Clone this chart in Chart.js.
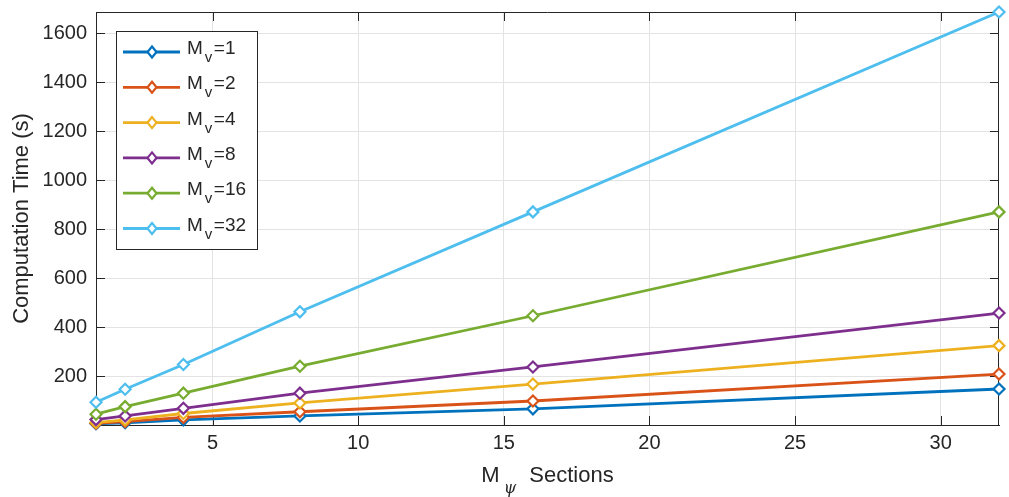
<!DOCTYPE html>
<html lang="en">
<head>
    <meta charset="UTF-8">
    <title>Computation Time</title>
    <script src="https://cdn.jsdelivr.net/npm/chart.js"></script>
    <style>
        html, body { margin: 0; padding: 0; background: #ffffff; }
        #wrap { width: 1009px; height: 497px; }
    </style>
</head>
<body>
    <div id="wrap"><canvas id="tempoChart" width="1009" height="497"></canvas></div>

    <script>
// === DADOS ===
const sections = [1, 2, 4, 8, 16, 32];
const mvValues = [1, 2, 4, 8, 16, 32];
const time_mv1 = [5, 9, 21, 37, 66, 147];
const time_mv2 = [7, 14, 31, 54, 98, 208];
const time_mv4 = [10, 21, 47, 90, 167, 324];
const time_mv8 = [22, 37, 68, 130, 237, 457];
const time_mv16 = [44, 75, 130, 240, 446, 870];
const time_mv32 = [93, 146, 247, 462, 870, 1686];
const xTicks = [5, 10, 15, 20, 25, 30];
const yTicks = [200, 400, 600, 800, 1000, 1200, 1400, 1600];

const series = [time_mv1, time_mv2, time_mv4, time_mv8, time_mv16, time_mv32];
const cores = ['#0072BD', '#D95319', '#EDB120', '#7E2F8E', '#77AC30', '#4DBEEE'];
const fonte = '"Liberation Sans", Arial, Helvetica, sans-serif';
const corEixo = '#262626';

// caixa, ticks para dentro
const caixaPlugin = {
    id: 'caixa',
    beforeDatasetsDraw(chart) {
        const c = chart.ctx, a = chart.chartArea;
        const xs = chart.scales.x, ys = chart.scales.y;
        c.save();
        c.strokeStyle = corEixo;
        c.lineWidth = 1;
        c.beginPath();
        c.moveTo(a.left, a.top + 0.5); c.lineTo(a.right, a.top + 0.5);
        c.moveTo(a.right - 0.5, a.top); c.lineTo(a.right - 0.5, a.bottom);
        yTicks.forEach(v => {
            const y = Math.round(ys.getPixelForValue(v)) + 0.5;
            c.moveTo(a.left, y); c.lineTo(a.left + 9, y);
            c.moveTo(a.right, y); c.lineTo(a.right - 9, y);
        });
        xTicks.forEach(v => {
            const x = Math.round(xs.getPixelForValue(v)) + 0.5;
            c.moveTo(x, a.bottom); c.lineTo(x, a.bottom - 9);
            c.moveTo(x, a.top); c.lineTo(x, a.top + 9);
        });
        c.stroke();
        c.restore();
    },
    afterDraw(chart) {
        const c = chart.ctx, a = chart.chartArea;
        c.save();
        // titulo do eixo x: M_psi Sections
        c.fillStyle = corEixo;
        c.textBaseline = 'alphabetic';
        c.font = '22px ' + fonte;
        const wM = c.measureText('M').width;
        const wS = c.measureText('Sections').width;
        c.font = 'italic 16px "DejaVu Serif", "Liberation Serif", serif';
        const wPsi = c.measureText('ψ').width;
        const total = wM + 5 + wPsi + 12 + wS;
        let x0 = (a.left + a.right) / 2 - total / 2;
        const base = 482;
        c.font = '22px ' + fonte;
        c.fillText('M', x0, base);
        c.font = 'italic 16px "DejaVu Serif", "Liberation Serif", serif';
        c.fillText('ψ', x0 + wM + 4, base + 11);
        c.font = '22px ' + fonte;
        c.fillText('Sections', x0 + wM + 5 + wPsi + 12, base);

        // legenda
        const lx = a.left + 20, ly = a.top + 19, lw = 141, lh = 218;
        c.fillStyle = '#ffffff';
        c.fillRect(lx, ly, lw, lh);
        c.strokeStyle = corEixo;
        c.lineWidth = 1;
        c.strokeRect(lx + 0.5, ly + 0.5, lw, lh);
        chart.data.datasets.forEach((ds, i) => {
            const cy = ly + 21 + i * 35.3;
            c.strokeStyle = ds.borderColor;
            c.lineWidth = 2.8;
            c.beginPath();
            c.moveTo(lx + 7, cy); c.lineTo(lx + 64, cy);
            c.stroke();
            const mx = lx + 36;
            c.lineWidth = 2.2;
            c.fillStyle = '#ffffff';
            c.beginPath();
            c.moveTo(mx, cy - 5.5); c.lineTo(mx + 4.5, cy); c.lineTo(mx, cy + 5.5); c.lineTo(mx - 4.5, cy); c.closePath();
            c.fill(); c.stroke();
            c.fillStyle = corEixo;
            const tx = lx + 71;
            c.font = '19px ' + fonte;
            const w1 = c.measureText('M').width;
            c.fillText('M', tx, cy + 2);
            c.font = '15px ' + fonte;
            const w2 = c.measureText('v').width;
            c.fillText('v', tx + w1 + 2, cy + 10);
            c.font = '19px ' + fonte;
            c.fillText('=' + mvValues[i], tx + w1 + 2 + w2 + 1.5, cy + 2);
        });
        c.restore();
    }
};

const ctx = document.getElementById('tempoChart').getContext('2d');
new Chart(ctx, {
    type: 'line',
    data: {
        datasets: series.map((s, i) => ({
            label: 'Mv=' + mvValues[i],
            data: sections.map((x, j) => ({ x: x, y: s[j] })),
            borderColor: cores[i],
            backgroundColor: '#ffffff',
            borderWidth: 2.8,
            pointStyle: 'rectRot',
            pointRadius: 5.5,
            pointBorderWidth: 2.2,
            pointBackgroundColor: '#ffffff',
            pointBorderColor: cores[i],
            tension: 0,
            clip: false,
            order: 5 - i
        }))
    },
    options: {
        responsive: false,
        animation: false,
        layout: { padding: { top: 12, right: 10, left: 0, bottom: 0 } },
        plugins: {
            legend: { display: false },
            tooltip: { enabled: false }
        },
        scales: {
            x: {
                type: 'linear',
                min: 1,
                max: 32,
                afterBuildTicks: s => { s.ticks = xTicks.map(v => ({ value: v })); },
                afterFit: s => { s.height = 72; s.paddingLeft = 0; s.paddingRight = 0; },
                grid: { color: '#e3e3e3', drawTicks: false },
                border: { color: corEixo, width: 1 },
                ticks: {
                    color: corEixo,
                    padding: 6,
                    maxRotation: 0,
                    callback: v => String(v),
                    font: { size: 20, family: fonte }
                }
            },
            y: {
                type: 'linear',
                min: 0,
                max: Math.max(...time_mv32),
                afterBuildTicks: s => { s.ticks = yTicks.map(v => ({ value: v })); },
                afterFit: s => { s.width = 96; s.paddingTop = 0; s.paddingBottom = 0; },
                grid: { color: '#e3e3e3', drawTicks: false },
                border: { color: corEixo, width: 1 },
                title: {
                    display: true,
                    text: 'Computation Time (s)',
                    color: corEixo,
                    padding: { top: 9, bottom: 0 },
                    font: { size: 22, family: fonte }
                },
                ticks: {
                    color: corEixo,
                    padding: 9,
                    callback: v => String(v),
                    font: { size: 20, family: fonte }
                }
            }
        }
    },
    plugins: [caixaPlugin]
});
    </script>
</body>
</html>
